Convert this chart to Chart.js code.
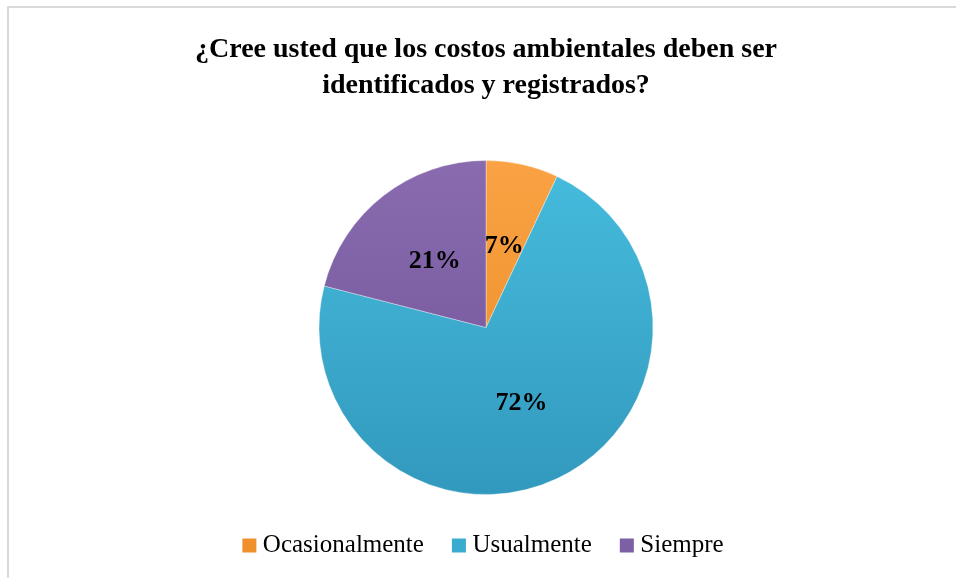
<!DOCTYPE html>
<html><head><meta charset="utf-8">
<script src="https://cdn.jsdelivr.net/npm/chart.js@4.4.0/dist/chart.umd.min.js"></script>
<style>
html,body{margin:0;padding:0;background:#fff;}
#wrap{position:relative;width:956px;height:578px;overflow:hidden;}
#frame{position:absolute;left:7px;top:6px;width:1000px;height:1000px;border-left:2px solid #d9d9d9;border-top:2px solid #d9d9d9;}
canvas{position:absolute;left:0;top:0;}
</style></head><body>
<div id="wrap"><div id="frame"></div><canvas id="c" width="956" height="578"></canvas></div>
<script>
const titleLines = ['¿Cree usted que los costos ambientales deben ser', 'identificados y registrados?'];
const categories = ['Ocasionalmente', 'Usualmente', 'Siempre'];
const values = [7, 72, 21];
const percentLabels = ['7%', '72%', '21%'];
const colorsTop = ['#FAA244', '#46BCDD', '#8A6BB0'];
const colorsBottom = ['#E98A22', '#3299BE', '#6D5296'];
const legendColors = ['#F0902C', '#3AACCF', '#7D5FA5'];

const PIE_R = 167;

function sliceFill(ctx) {
  const ch = ctx.chart, a = ch.chartArea, i = ctx.dataIndex;
  if (!a) return legendColors[i];
  const cy = (a.top + a.bottom) / 2;
  const g = ch.ctx.createLinearGradient(0, cy - PIE_R, 0, cy + PIE_R);
  g.addColorStop(0, colorsTop[i]);
  g.addColorStop(1, colorsBottom[i]);
  return g;
}

const pctPlugin = {
  id: 'pct',
  afterDatasetsDraw(chart) {
    const meta = chart.getDatasetMeta(0);
    const c = chart.ctx;
    c.save();
    c.font = 'bold 26px "Liberation Serif", "Times New Roman", serif';
    c.fillStyle = '#000';
    c.textAlign = 'center';
    c.textBaseline = 'middle';
    meta.data.forEach((arc, i) => {
      const p = arc.tooltipPosition();
      c.fillText(percentLabels[i], p.x, p.y);
    });
    c.restore();
  }
};

new Chart(document.getElementById('c'), {
  type: 'pie',
  data: {
    labels: categories,
    datasets: [{
      data: values,
      backgroundColor: sliceFill,
      borderColor: 'rgba(255,255,255,0.35)',
      borderWidth: 1,
      radius: PIE_R
    }]
  },
  options: {
    responsive: false,
    animation: false,
    devicePixelRatio: 1,
    layout: { padding: { left: 16, right: 0, top: 0, bottom: 10 } },
    plugins: {
      title: {
        display: true,
        text: titleLines,
        color: '#000',
        font: { family: '"Liberation Serif", "Times New Roman", serif', size: 28, weight: 'bold', lineHeight: 1.286 },
        padding: { top: 32, bottom: 52 }
      },
      legend: {
        position: 'bottom',
        labels: {
          usePointStyle: true,
          pointStyle: 'rect',
          boxWidth: 2,
          boxHeight: 14,
          padding: 34,
          color: '#000',
          font: { family: '"Liberation Serif", "Times New Roman", serif', size: 25 },
          generateLabels: () => categories.map((t, i) => ({
            text: t, fillStyle: legendColors[i], strokeStyle: legendColors[i],
            lineWidth: 0, hidden: false, index: i, pointStyle: 'rect', fontColor: '#000'
          }))
        }
      },
      tooltip: { enabled: false }
    }
  },
  plugins: [pctPlugin]
});
</script>
</body></html>
